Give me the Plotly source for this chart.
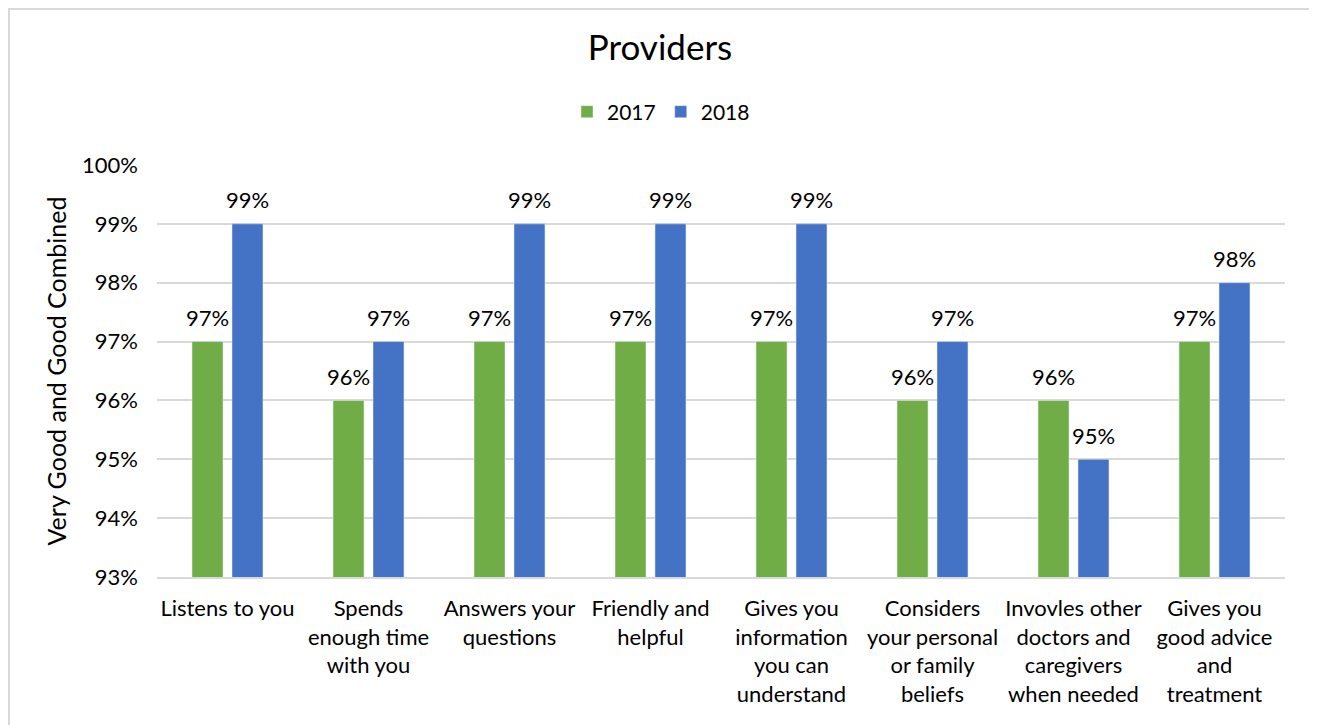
import plotly.graph_objects as go

categories = [
    "Listens to you",
    "Spends<br>enough time<br>with you",
    "Answers your<br>questions",
    "Friendly and<br>helpful",
    "Gives you<br>information<br>you can<br>understand",
    "Considers<br>your personal<br>or family<br>beliefs",
    "Invovles other<br>doctors and<br>caregivers<br>when needed",
    "Gives you<br>good advice<br>and<br>treatment",
]
series_names = ["2017", "2018"]
values_2017 = [0.97, 0.96, 0.97, 0.97, 0.97, 0.96, 0.96, 0.97]
values_2018 = [0.99, 0.97, 0.99, 0.99, 0.99, 0.97, 0.95, 0.98]

FONT = "Lato"
OFF = 8  # default page body margin
W, H = 1317 - OFF, 725 - OFF
L, T = 157 - OFF, 165 - OFF
pw, ph = 1128, 412
R, B = W - L - pw, H - T - ph
SZ = 22
BARGAP, GROUPGAP = 0.433, 0.225

fig = go.Figure()
colors = ["#70ad47", "#4472c4"]
for name, vals, color in zip(series_names, [values_2017, values_2018], colors):
    fig.add_trace(go.Bar(name=name, x=categories, y=vals, marker_color=color))

# data labels above bars
slot = pw / len(categories) * (1 - BARGAP) / 2
annotations = []
for i, vals in enumerate([values_2017, values_2018]):
    shift = (i - 0.5) * slot
    for c, v in zip(categories, vals):
        annotations.append(dict(x=c, y=v, xref="x", yref="y", text=f"{round(v*100)}%",
                                showarrow=False, xshift=shift, yshift=24, yanchor="middle",
                                font=dict(size=SZ, family=FONT, color="#000000")))

fig.update_layout(
    width=W, height=H,
    margin=dict(l=L, r=R, t=T, b=B, autoexpand=False),
    paper_bgcolor="white", plot_bgcolor="white",
    barmode="group", bargap=BARGAP, bargroupgap=GROUPGAP,
    font=dict(family=FONT, color="#000000", size=SZ),
    title=dict(text="Providers", x=(660 - OFF - L) / pw, xref="paper", xanchor="center",
               y=1 - (48 - OFF) / H, yanchor="middle",
               font=dict(size=35, family=FONT, color="#000000")),
    legend=dict(orientation="h", x=(661 - OFF - L) / pw, xref="paper", xanchor="center",
                y=1 + (T - (112 - OFF)) / ph, yanchor="middle",
                font=dict(size=21, family=FONT), itemwidth=30, traceorder="normal"),
    xaxis=dict(showline=True, linecolor="#d9d9d9", linewidth=1.5, ticks="",
               tickfont=dict(size=SZ, family=FONT), tickangle=0, automargin=False,
               ticklabelstandoff=11),
    yaxis=dict(range=[0.93, 1.0], dtick=0.01, tickformat=".0%", showgrid=True,
               gridcolor="#d9d9d9", gridwidth=1.5, zeroline=False, ticks="",
               tickfont=dict(size=SZ, family=FONT), automargin=False,
               ticklabelstandoff=18,
               title=dict(text="Very Good and Good Combined",
                          font=dict(size=25, family=FONT), standoff=8)),
    annotations=annotations,
    shapes=[dict(type="rect", xref="paper", yref="paper",
                 x0=(1 - L) / pw, x1=(1314 - OFF - L) / pw,
                 y0=-(B + 20) / ph, y1=1 + (T - 1) / ph,
                 line=dict(color="#d9d9d9", width=2), layer="below")],
)

fig.write_html("out.html")
